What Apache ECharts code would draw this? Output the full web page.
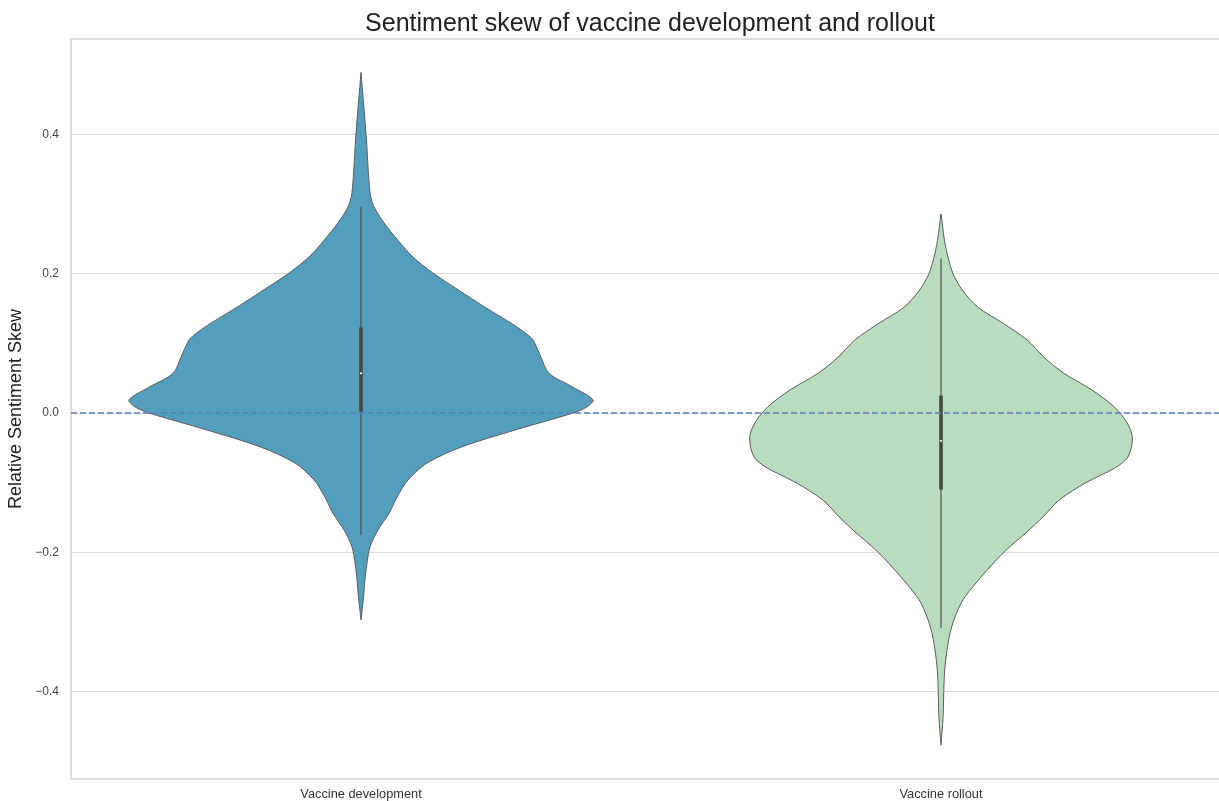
<!DOCTYPE html>
<html>
<head>
<meta charset="utf-8">
<script src="https://cdn.jsdelivr.net/npm/echarts@6/dist/echarts.min.js"></script>
<style>
  html, body { margin: 0; padding: 0; background: #fff; }
  #chart { width: 1219px; height: 801px; }
</style>
</head>
<body>
<div id="chart"></div>
<script>
const categories = ['Vaccine development', 'Vaccine rollout'];

// violin outlines: y value and relative half-width (1 = widest)
const devY = [0.489, 0.399, 0.316, 0.296, 0.273, 0.248, 0.224, 0.201, 0.177, 0.152, 0.129, 0.117, 0.105,
  0.080, 0.057, 0.037, 0.019, 0.009, 0.0, -0.024, -0.049, -0.072, -0.096, -0.121, -0.144, -0.168,
  -0.192, -0.215, -0.240, -0.264, -0.297];
const devDensity = [0, 0.022, 0.039, 0.056, 0.099, 0.159, 0.224, 0.310, 0.418, 0.534, 0.647, 0.700, 0.741,
  0.776, 0.810, 0.914, 1.0, 0.975, 0.914, 0.668, 0.431, 0.284, 0.203, 0.155, 0.121, 0.073,
  0.039, 0.026, 0.017, 0.011, 0];

const rollY = [0.286, 0.248, 0.224, 0.200, 0.177, 0.152, 0.129, 0.105, 0.080, 0.057, 0.033, 0.009,
  -0.014, -0.036, -0.063, -0.078, -0.100, -0.125, -0.149, -0.172, -0.197, -0.221, -0.244, -0.268,
  -0.293, -0.316, -0.340, -0.365, -0.388, -0.436, -0.477];
const rollDensity = [0, 0.015, 0.030, 0.052, 0.091, 0.159, 0.267, 0.371, 0.444, 0.530, 0.651, 0.746,
  0.802, 0.825, 0.806, 0.754, 0.625, 0.509, 0.440, 0.366, 0.280, 0.211, 0.151, 0.095,
  0.060, 0.039, 0.026, 0.017, 0.013, 0.009, 0];

// inner box: [whisker low, q1, median, q3, whisker high]
const devStats = [-0.175, 0.002, 0.057, 0.123, 0.296];
const rollStats = [-0.309, -0.110, -0.040, 0.025, 0.222];

const refLine = 0;

const profiles = [
  { y: devY, d: devDensity, stats: devStats, color: '#539ebd' },
  { y: rollY, d: rollDensity, stats: rollStats, color: '#b8dcbd' }
];

function renderViolin(params, api) {
  const i = api.value(0);
  const p = profiles[i];
  const half = api.size([1, 0])[0] * 0.4;
  const left = [], right = [];
  p.y.forEach(function (y, k) {
    const c = api.coord([i, y]);
    left.push([c[0] - p.d[k] * half, c[1]]);
    right.push([c[0] + p.d[k] * half, c[1]]);
  });
  const pts = left.concat(right.reverse());
  const wLo = api.coord([i, p.stats[0]]);
  const q1 = api.coord([i, p.stats[1]]);
  const med = api.coord([i, p.stats[2]]);
  const q3 = api.coord([i, p.stats[3]]);
  const wHi = api.coord([i, p.stats[4]]);
  return {
    type: 'group',
    children: [
      {
        type: 'polygon',
        shape: { points: pts, smooth: 0.3 },
        style: { fill: p.color, stroke: '#5c5c5c', lineWidth: 1 }
      },
      {
        type: 'line',
        shape: { x1: wLo[0], y1: wLo[1], x2: wHi[0], y2: wHi[1] },
        style: { stroke: '#4a4a4a', lineWidth: 1.1 }
      },
      {
        type: 'line',
        shape: { x1: q1[0], y1: q1[1], x2: q3[0], y2: q3[1] },
        style: { stroke: '#474747', lineWidth: 3.6 }
      },
      {
        type: 'circle',
        shape: { cx: med[0], cy: med[1], r: 1.1 },
        style: { fill: '#ffffff' }
      }
    ]
  };
}

const chart = echarts.init(document.getElementById('chart'));
chart.setOption({
  animation: false,
  backgroundColor: '#ffffff',
  textStyle: { fontFamily: '"Liberation Sans", Arial, sans-serif' },
  title: {
    text: 'Sentiment skew of vaccine development and rollout',
    left: 645,
    top: 7,
    textAlign: 'center',
    textStyle: { fontSize: 25, fontWeight: 'normal', color: '#222' }
  },
  grid: {
    left: 71, top: 39, width: 1160, bottom: 22,
    outerBoundsMode: 'none',
    containLabel: false,
    show: true, borderColor: '#d4d4d4', borderWidth: 1.5
  },
  xAxis: {
    type: 'category',
    data: categories,
    axisLine: { show: false },
    axisTick: { show: false },
    axisLabel: { fontSize: 12.8, color: '#333', margin: 9 },
    splitLine: { show: false }
  },
  yAxis: {
    type: 'value',
    min: -0.5255,
    max: 0.537,
    splitNumber: 5,
    name: 'Relative Sentiment Skew',
    nameLocation: 'middle',
    nameGap: 46,
    nameMoveOverlap: false,
    nameRotate: 90,
    nameTextStyle: { fontSize: 18, color: '#222' },
    axisLine: { show: false },
    axisTick: { show: false },
    axisLabel: {
      fontSize: 12, color: '#444', margin: 12,
      showMinLabel: false, showMaxLabel: false,
      formatter: function (v) { return v.toFixed(1).replace('-', '\u2212'); }
    },
    splitLine: { lineStyle: { color: '#dcdcdc', width: 1.2 } }
  },
  series: [{
    type: 'custom',
    renderItem: renderViolin,
    data: categories.map(function (c, i) { return [i]; }),
    encode: { x: 0 },
    markLine: {
      silent: true,
      symbol: 'none',
      label: { show: false },
      lineStyle: { color: '#5a7fc0', type: [6, 3], width: 1.5 },
      data: [{ yAxis: refLine }]
    }
  }]
});
</script>
</body>
</html>
